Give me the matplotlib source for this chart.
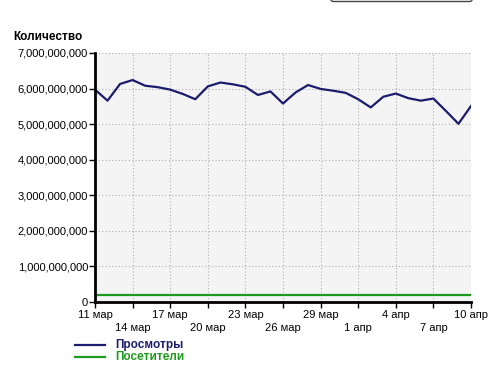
import matplotlib
matplotlib.use("Agg")
import matplotlib.pyplot as plt
from matplotlib.patches import FancyBboxPatch
from matplotlib.lines import Line2D
import numpy as np

plt.rcParams['font.family'] = ['Liberation Sans', 'DejaVu Sans']

days = list(range(31))
tick_days = list(range(0, 31, 3))
tick_labels = ["11 мар", "14 мар", "17 мар", "20 мар", "23 мар", "26 мар",
               "29 мар", "1 апр", "4 апр", "7 апр", "10 апр"]
views = [5.97e9, 5.66e9, 6.13e9, 6.24e9, 6.08e9, 6.04e9, 5.97e9, 5.85e9, 5.70e9,
         6.06e9, 6.17e9, 6.12e9, 6.05e9, 5.82e9, 5.92e9, 5.58e9, 5.89e9, 6.10e9,
         5.99e9, 5.94e9, 5.88e9, 5.70e9, 5.47e9, 5.77e9, 5.86e9, 5.73e9, 5.66e9,
         5.72e9, 5.37e9, 5.01e9, 5.51e9]
visitors = [1.9e8] * 31
series_names = ["Просмотры", "Посетители"]
navy = "#1c1c6e"
green = "#1e9a1e"

fig = plt.figure(figsize=(4.99, 3.70), dpi=100)
ax = fig.add_axes([95/499, 1-302/370, 376/499, 249/370])
ax.set_facecolor("#f4f4f4")
ax.plot(days, views, color=navy, lw=1.6)
ax.plot(days, visitors, color=green, lw=1.6)
ax.set_xlim(0, 30)
ax.set_ylim(0, 7e9)
ax.set_yticks(np.arange(0, 7.01e9, 1e9))
ax.set_yticklabels([f"{int(v):,}" for v in np.arange(0, 7.01e9, 1e9)], fontsize=8)
ax.set_xticks(tick_days)
ax.set_xticklabels([])
for i, (d, lab) in enumerate(zip(tick_days, tick_labels)):
    off = -9 if i % 2 == 0 else -19
    ax.annotate(lab, xy=(d, 0), xycoords=('data', 'axes fraction'),
                xytext=(0, off), textcoords='offset points', ha='center',
                va='center', fontsize=8)
ax.grid(True, color="#b0b0b0", linestyle=(0, (1, 2)), lw=0.8)
for s in ['top', 'right']:
    ax.spines[s].set_visible(False)
for s in ['left', 'bottom']:
    ax.spines[s].set_linewidth(2)
    ax.spines[s].set_color("black")
ax.tick_params(axis='y', length=4, width=1, pad=1)
ax.tick_params(axis='x', length=4, width=1, direction='out')

fig.text(13/499, 1-37/370, "Количество", fontsize=8.5, fontweight='bold',
         ha='left', va='center')

# legend
for y, col, name in [(345, navy, series_names[0]), (356.5, green, series_names[1])]:
    fig.add_artist(Line2D([75/499, 105/499], [1-y/370, 1-y/370], color=col, lw=1.6))
    fig.text(115/499, 1-y/370, name, color=col, fontsize=8.5, fontweight='bold',
             ha='left', va='center')

# partially visible box at top right
box = FancyBboxPatch((331/499, 1-1.5/370), 141/499, 20/370,
                     boxstyle="round,pad=0,rounding_size=0.005",
                     transform=fig.transFigure, facecolor='white',
                     edgecolor='#444444', lw=1)
fig.add_artist(box)

fig.savefig("out.png", dpi=100)
